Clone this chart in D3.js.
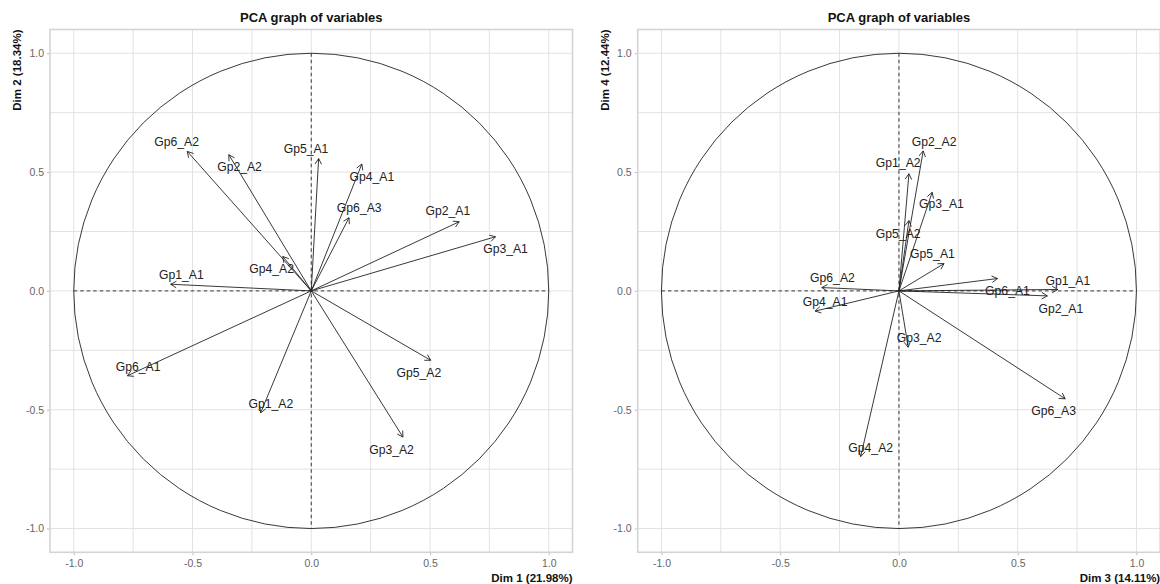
<!DOCTYPE html>
<html><head><meta charset="utf-8">
<script src="https://cdn.jsdelivr.net/npm/d3@7/dist/d3.min.js"></script>
<style>
body{margin:0;background:#fff;}
svg{display:block;font-family:"Liberation Sans",Arial,sans-serif;}
</style></head>
<body><svg id="c" width="1160" height="584"></svg>
<script>
// Variable names
const variables = ["Gp1_A1","Gp1_A2","Gp2_A1","Gp2_A2","Gp3_A1","Gp3_A2","Gp4_A1","Gp4_A2","Gp5_A1","Gp5_A2","Gp6_A1","Gp6_A2","Gp6_A3"];
// Coordinates (correlations) on each dimension
const dim1 = [-0.592,-0.213, 0.623,-0.347, 0.776, 0.386, 0.213,-0.120, 0.031, 0.503,-0.774,-0.522, 0.159];
const dim2 = [ 0.028,-0.513, 0.291, 0.573, 0.228,-0.615, 0.534, 0.145, 0.557,-0.292,-0.357, 0.587, 0.308];
const dim3 = [ 0.669, 0.042, 0.625, 0.102, 0.140, 0.039,-0.353,-0.161, 0.190, 0.042, 0.415,-0.325, 0.700];
const dim4 = [ 0.006, 0.493,-0.021, 0.589, 0.415,-0.237,-0.085,-0.697, 0.115, 0.296, 0.052, 0.014,-0.454];
// Repelled label anchors (data units) for each panel
const labA_x = [-0.547,-0.170, 0.575,-0.302, 0.818, 0.338, 0.255,-0.167,-0.022, 0.453,-0.729,-0.567, 0.202];
const labA_y = [ 0.067,-0.476, 0.336, 0.524, 0.176,-0.667, 0.483, 0.094, 0.599,-0.343,-0.319, 0.627, 0.350];
const labB_x = [ 0.711,-0.003, 0.682, 0.148, 0.179, 0.085,-0.311,-0.119, 0.141,-0.003, 0.457,-0.280, 0.651];
const labB_y = [ 0.042, 0.538,-0.076, 0.630, 0.366,-0.197,-0.046,-0.658, 0.155, 0.242, 0.000, 0.054,-0.504];
// Axis titles
const titles = ["PCA graph of variables","PCA graph of variables"];
const xTitles = ["Dim 1 (21.98%)","Dim 3 (14.11%)"];
const yTitles = ["Dim 2 (18.34%)","Dim 4 (12.44%)"];
const majorTicks = [-1,-0.5,0,0.5,1];
const minorTicks = [-0.75,-0.25,0.25,0.75];

const svg = d3.select("#c");

function panel(cfg){
  const {left,right,top,bottom,xs,ys,lx,ly,title,xt,yt} = cfg;
  const x = d3.scaleLinear().domain([-1.1,1.1]).range([left,right]);
  const y = d3.scaleLinear().domain([-1.1,1.1]).range([bottom,top]);
  const g = svg.append("g");
  // grid
  const grid = g.append("g").attr("stroke","#e2e2e2").attr("stroke-width",1);
  [...majorTicks,...minorTicks].forEach(t=>{
    grid.append("line").attr("x1",x(t)).attr("x2",x(t)).attr("y1",top).attr("y2",bottom);
    grid.append("line").attr("y1",y(t)).attr("y2",y(t)).attr("x1",left).attr("x2",right);
  });
  // axes
  const fmt = d=>d3.format(".1f")(d).replace("−","-");
  const xa = g.append("g").attr("transform",`translate(0,${bottom})`)
    .call(d3.axisBottom(x).tickValues(majorTicks).tickFormat(fmt).tickSize(3).tickPadding(4));
  const ya = g.append("g").attr("transform",`translate(${left},0)`)
    .call(d3.axisLeft(y).tickValues(majorTicks).tickFormat(fmt).tickSize(3).tickPadding(3));
  [xa,ya].forEach(a=>{
    a.select(".domain").remove();
    a.selectAll(".tick line").attr("stroke","#bdbdbd");
    a.selectAll(".tick text").attr("fill","#666").attr("font-size",10.5).attr("font-family","Liberation Sans,Arial,sans-serif");
  });
  // panel border
  g.append("rect").attr("x",left).attr("y",top).attr("width",right-left).attr("height",bottom-top)
    .attr("fill","none").attr("stroke","#d4d4d4").attr("stroke-width",1.6);
  // circle
  g.append("ellipse").attr("cx",x(0)).attr("cy",y(0)).attr("rx",x(1)-x(0)).attr("ry",y(0)-y(1))
    .attr("fill","none").attr("stroke","#222").attr("stroke-width",0.9);
  // dashed axes
  g.append("line").attr("x1",x(-1)).attr("x2",x(1)).attr("y1",y(0)).attr("y2",y(0))
    .attr("stroke","#222").attr("stroke-dasharray","3.5,3").attr("stroke-width",0.9);
  g.append("line").attr("x1",x(0)).attr("x2",x(0)).attr("y1",y(1)).attr("y2",y(-1))
    .attr("stroke","#222").attr("stroke-dasharray","3.5,3").attr("stroke-width",0.9);
  // arrows
  const ag = g.append("g").attr("stroke","#222").attr("stroke-width",0.9).attr("fill","none");
  variables.forEach((v,i)=>{
    const x0=x(0),y0=y(0),x1=x(xs[i]),y1=y(ys[i]);
    ag.append("line").attr("x1",x0).attr("y1",y0).attr("x2",x1).attr("y2",y1);
    const ang=Math.atan2(y1-y0,x1-x0), L=6.5, a=Math.PI/6;
    const p1=[x1-L*Math.cos(ang-a), y1-L*Math.sin(ang-a)];
    const p2=[x1-L*Math.cos(ang+a), y1-L*Math.sin(ang+a)];
    ag.append("path").attr("d",`M${p1[0]},${p1[1]}L${x1},${y1}L${p2[0]},${p2[1]}`);
  });
  // labels
  g.append("g").selectAll("text").data(variables).join("text")
    .attr("x",(d,i)=>x(lx[i])).attr("y",(d,i)=>y(ly[i])).attr("dy","0.36em")
    .attr("text-anchor","middle").attr("font-size",12.2).attr("fill","#222").text(d=>d);
  // titles
  svg.append("text").attr("x",(left+right)/2).attr("y",22).attr("text-anchor","middle")
    .attr("font-weight","bold").attr("font-size",13).attr("fill","#111").text(title);
  svg.append("text").attr("x",right).attr("y",582).attr("text-anchor","end")
    .attr("font-weight","bold").attr("font-size",11.5).attr("fill","#111").text(xt);
  svg.append("text").attr("transform",`translate(${left-29},${top}) rotate(-90)`).attr("text-anchor","end")
    .attr("font-weight","bold").attr("font-size",11.5).attr("fill","#111").text(yt);
}

panel({left:50,right:572.5,top:29.5,bottom:552.3,xs:dim1,ys:dim2,lx:labA_x,ly:labA_y,title:titles[0],xt:xTitles[0],yt:yTitles[0]});
panel({left:637.7,right:1160.2,top:29.5,bottom:552.3,xs:dim3,ys:dim4,lx:labB_x,ly:labB_y,title:titles[1],xt:xTitles[1],yt:yTitles[1]});
</script>
</body></html>
